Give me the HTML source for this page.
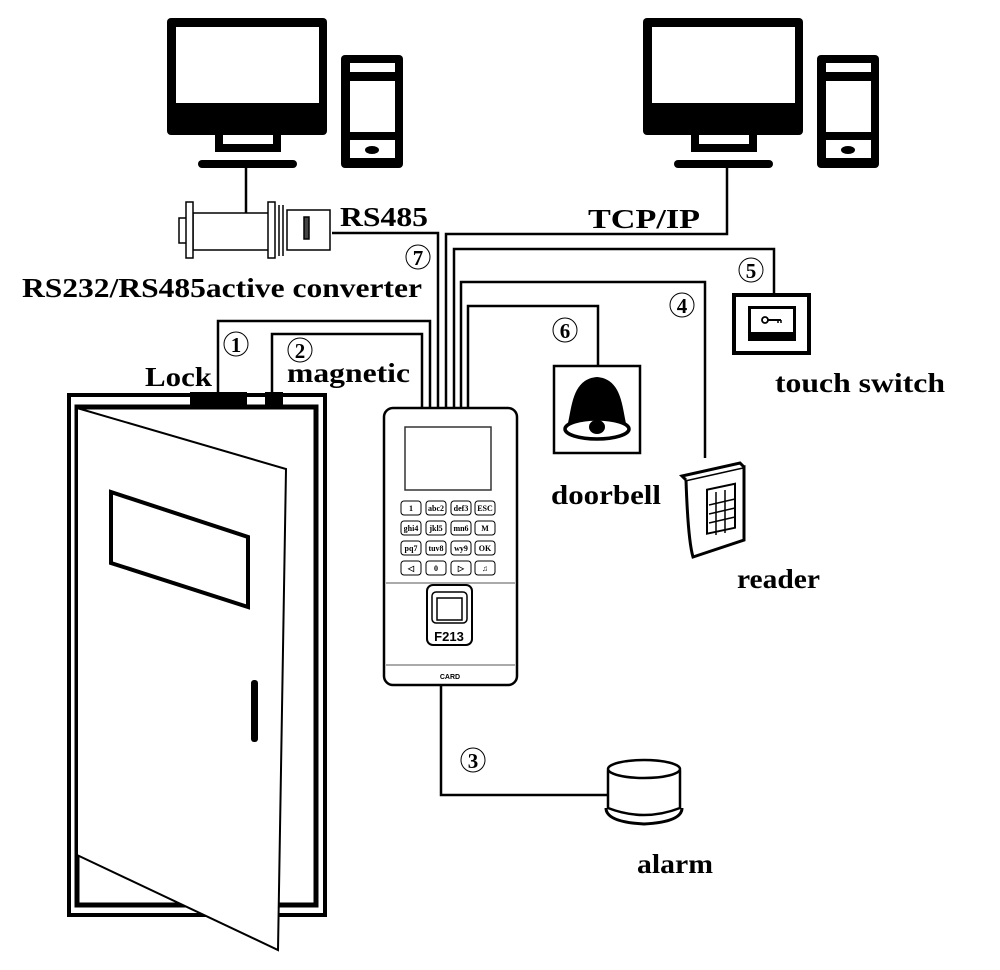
<!DOCTYPE html>
<html><head><meta charset="utf-8"><style>
html,body{margin:0;padding:0;background:#fff}
svg{display:block}
text{font-family:"Liberation Serif",serif;font-weight:bold;fill:#000}
</style></head><body>
<svg width="1000" height="970" viewBox="0 0 1000 970" xmlns="http://www.w3.org/2000/svg">
<defs>
<g id="pc">
  <rect x="167" y="18" width="160" height="117" rx="4" fill="#000"/>
  <rect x="176" y="27" width="143" height="76" fill="#fff"/>
  <rect x="215" y="133" width="66" height="19" fill="#000"/>
  <rect x="223" y="135" width="50" height="9" fill="#fff"/>
  <rect x="198" y="160" width="99" height="8" rx="4" fill="#000"/>
  <rect x="341" y="55" width="62" height="113" rx="4" fill="#000"/>
  <rect x="350" y="63" width="45" height="9" fill="#fff"/>
  <rect x="350" y="81" width="45" height="51" fill="#fff"/>
  <rect x="350" y="140" width="45" height="18" fill="#fff"/>
  <ellipse cx="372" cy="150" rx="7" ry="4" fill="#000"/>
</g>
</defs>
<use href="#pc"/>
<use href="#pc" transform="translate(476,0)"/>

<g fill="none" stroke="#000" stroke-width="2.5">
  <line x1="246" y1="168" x2="246" y2="213"/>
  <polyline points="727,165 727,234 446,234 446,408"/>
  <polyline points="332,233 438,233 438,408"/>
  <polyline points="774,294 774,249 454,249 454,408"/>
  <polyline points="705,458 705,282 461,282 461,408"/>
  <polyline points="598,366 598,306 468,306 468,408"/>
  <polyline points="218,393 218,321 430,321 430,408"/>
  <polyline points="272,393 272,334 422,334 422,408"/>
  <polyline points="441,685 441,795 607,795"/>
</g>

<!-- converter -->
<g fill="#fff" stroke="#000" stroke-width="1.5">
  <rect x="179" y="218" width="8" height="25"/>
  <rect x="193" y="213" width="77" height="37"/>
  <rect x="186" y="202" width="7" height="56"/>
  <rect x="268" y="202" width="7" height="56"/>
  <line x1="279" y1="205" x2="279" y2="256"/>
  <line x1="283" y1="205" x2="283" y2="256"/>
  <rect x="287" y="210" width="43" height="40"/>
  <rect x="304" y="217" width="5" height="22" fill="#444"/>
</g>

<!-- door -->
<rect x="69" y="395" width="256" height="520" fill="none" stroke="#000" stroke-width="4"/>
<rect x="77" y="407" width="239" height="498" fill="none" stroke="#000" stroke-width="5"/>
<rect x="190" y="392" width="57" height="14" fill="#000"/>
<rect x="265" y="392" width="18" height="14" fill="#000"/>
<polygon points="77,408 286,469 278,950 77,855" fill="#fff" stroke="#000" stroke-width="2"/>
<polygon points="111,492 248,537 248,607 111,563" fill="none" stroke="#000" stroke-width="4"/>
<rect x="251" y="680" width="7" height="62" rx="3" fill="#000"/>

<!-- device -->
<rect x="384" y="408" width="133" height="277" rx="9" fill="#fff" stroke="#000" stroke-width="2.5"/>
<rect x="405" y="427" width="86" height="63" fill="#fff" stroke="#333" stroke-width="1.5"/>
<line x1="386" y1="583" x2="515" y2="583" stroke="#555" stroke-width="1"/>
<line x1="386" y1="665" x2="515" y2="665" stroke="#555" stroke-width="1"/>
<g fill="#fff" stroke="#000" stroke-width="1">
  <rect x="401" y="501" width="20" height="14" rx="3"/><rect x="426" y="501" width="20" height="14" rx="3"/><rect x="451" y="501" width="20" height="14" rx="3"/><rect x="475" y="501" width="20" height="14" rx="3"/>
  <rect x="401" y="521" width="20" height="14" rx="3"/><rect x="426" y="521" width="20" height="14" rx="3"/><rect x="451" y="521" width="20" height="14" rx="3"/><rect x="475" y="521" width="20" height="14" rx="3"/>
  <rect x="401" y="541" width="20" height="14" rx="3"/><rect x="426" y="541" width="20" height="14" rx="3"/><rect x="451" y="541" width="20" height="14" rx="3"/><rect x="475" y="541" width="20" height="14" rx="3"/>
  <rect x="401" y="561" width="20" height="14" rx="3"/><rect x="426" y="561" width="20" height="14" rx="3"/><rect x="451" y="561" width="20" height="14" rx="3"/><rect x="475" y="561" width="20" height="14" rx="3"/>
</g>
<g font-size="8" text-anchor="middle" style="font-family:'Liberation Sans',sans-serif">
  <text x="411" y="511">1</text><text x="436" y="511">abc2</text><text x="461" y="511">def3</text><text x="485" y="511">ESC</text>
  <text x="411" y="531">ghi4</text><text x="436" y="531">jkl5</text><text x="461" y="531">mn6</text><text x="485" y="531">M</text>
  <text x="411" y="551">pq7</text><text x="436" y="551">tuv8</text><text x="461" y="551">wy9</text><text x="485" y="551">OK</text>
  <text x="411" y="571">◁</text><text x="436" y="571">0</text><text x="461" y="571">▷</text><text x="485" y="571">♫</text>
</g>
<rect x="427" y="585" width="45" height="60" rx="6" fill="#fff" stroke="#000" stroke-width="2"/>
<rect x="432" y="592" width="35" height="31" rx="4" fill="#fff" stroke="#000" stroke-width="1.5"/>
<rect x="437" y="598" width="25" height="22" fill="#fff" stroke="#000" stroke-width="1.5"/>
<text x="449" y="641" font-size="13" text-anchor="middle" style="font-family:'Liberation Sans',sans-serif">F213</text>
<text x="450" y="679" font-size="7" text-anchor="middle" style="font-family:'Liberation Sans',sans-serif">CARD</text>

<!-- doorbell -->
<rect x="554" y="366" width="86" height="87" fill="#fff" stroke="#000" stroke-width="2.5"/>
<path d="M567,427 C572,410 571,379 597,377 C623,379 622,410 627,427 Z" fill="#000"/>
<ellipse cx="597" cy="429" rx="32" ry="10" fill="#fff" stroke="#000" stroke-width="3.5"/>
<ellipse cx="597" cy="427" rx="8" ry="7" fill="#000"/>

<!-- touch switch -->
<rect x="734" y="295" width="75" height="58" fill="#fff" stroke="#000" stroke-width="4"/>
<rect x="748" y="306" width="48" height="35" fill="#000"/>
<rect x="751" y="309" width="42" height="23" fill="#fff"/>
<circle cx="765" cy="320" r="3" fill="none" stroke="#000" stroke-width="1.8"/>
<line x1="768" y1="320" x2="781" y2="320" stroke="#000" stroke-width="2"/>
<line x1="778" y1="320" x2="778" y2="323" stroke="#000" stroke-width="1.5"/>
<line x1="781" y1="320" x2="781" y2="323" stroke="#000" stroke-width="1.5"/>

<!-- reader -->
<g stroke="#000" fill="#fff" stroke-width="3">
  <path d="M686,480 L744,467 L744,540 L693,557 Q688,540 686,480 Z"/>
  <path d="M686,480 L682,476 L740,463 L744,467"/>
  <rect x="707" y="490" width="28" height="44" transform="skewY(-12) translate(0,150)" stroke-width="2"/>
</g>
<g stroke="#000" stroke-width="1.5">
  <line x1="709" y1="505" x2="735" y2="499"/><line x1="709" y1="514" x2="735" y2="508"/><line x1="709" y1="523" x2="735" y2="517"/>
  <line x1="716" y1="492" x2="716" y2="535"/><line x1="725" y1="490" x2="725" y2="533"/>
</g>

<!-- alarm -->
<path d="M608,770 L608,808 Q644,822 680,808 L680,770" fill="#fff" stroke="#000" stroke-width="2.5"/>
<ellipse cx="644" cy="769" rx="36" ry="9" fill="#fff" stroke="#000" stroke-width="2.5"/>
<path d="M606,808 Q606,822 644,824 Q682,822 682,808" fill="none" stroke="#000" stroke-width="3"/>

<!-- circled numbers -->
<g fill="none" stroke="#000" stroke-width="1">
  <circle cx="236" cy="344" r="12"/><circle cx="300" cy="350" r="12"/><circle cx="418" cy="257" r="12"/>
  <circle cx="751" cy="270" r="12"/><circle cx="682" cy="305" r="12"/><circle cx="565" cy="330" r="12"/>
  <circle cx="473" cy="760" r="12"/>
</g>
<g font-size="21" text-anchor="middle">
  <text x="236" y="352">1</text><text x="300" y="358">2</text><text x="418" y="265">7</text>
  <text x="751" y="278">5</text><text x="682" y="313">4</text><text x="565" y="338">6</text>
  <text x="473" y="768">3</text>
</g>

<!-- labels -->
<g font-size="27" lengthAdjust="spacingAndGlyphs">
  <text x="340" y="226" textLength="88" lengthAdjust="spacingAndGlyphs">RS485</text>
  <text x="588" y="228" textLength="112" lengthAdjust="spacingAndGlyphs">TCP/IP</text>
  <text x="22" y="297" textLength="400" lengthAdjust="spacingAndGlyphs">RS232/RS485active converter</text>
  <text x="145" y="386" textLength="67" lengthAdjust="spacingAndGlyphs">Lock</text>
  <text x="287" y="382" textLength="123" lengthAdjust="spacingAndGlyphs">magnetic</text>
  <text x="775" y="392" textLength="170" lengthAdjust="spacingAndGlyphs">touch switch</text>
  <text x="551" y="504" textLength="110" lengthAdjust="spacingAndGlyphs">doorbell</text>
  <text x="737" y="588" textLength="83" lengthAdjust="spacingAndGlyphs">reader</text>
  <text x="637" y="873" textLength="76" lengthAdjust="spacingAndGlyphs">alarm</text>
</g>
</svg>
</body></html>
